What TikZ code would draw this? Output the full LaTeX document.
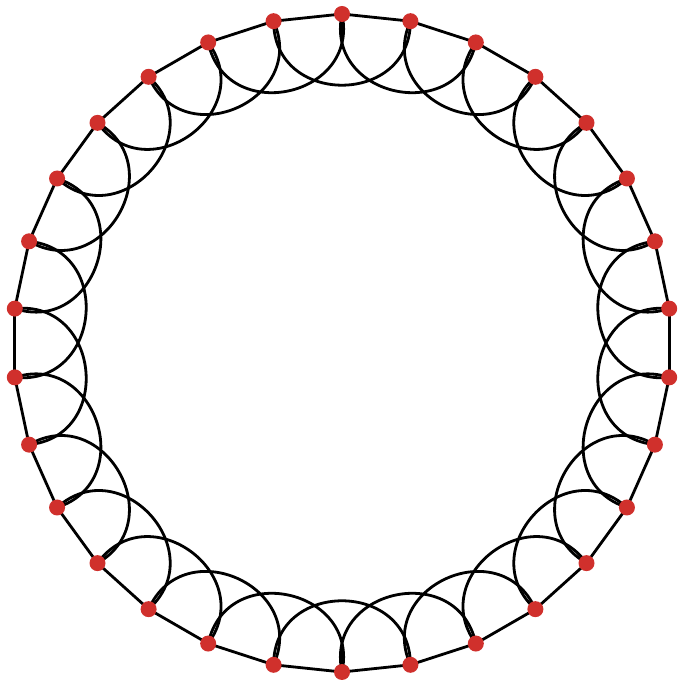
\documentclass[tikz,border=0pt]{standalone}
\usepackage{tikz}
\usetikzlibrary{backgrounds}
\definecolor{dotred}{RGB}{208,48,44}

\begin{document}
\begin{tikzpicture}[x=1pt,y=1pt,
  dot/.style={circle,fill=dotred,inner sep=0pt,minimum size=16pt},
  ring/.style={line width=2.8pt,black}]
  \useasboundingbox (0,0) rectangle (683,687);
  \begin{scope}[shift={(342,344)}]
    \foreach \i in {0,...,29}{\node[dot] (v\i) at ({90+12*\i}:329) {};}
    \begin{scope}[on background layer]
      \foreach \i in {0,...,29}{
        \pgfmathtruncatemacro\j{mod(\i+1,30)}
        \pgfmathtruncatemacro\k{mod(\i+2,30)}
        \draw[ring] (v\i.center) -- (v\j.center);
        \draw[ring] (v\i.center) to[bend left=90,looseness=1.6] (v\k.center);
      }
    \end{scope}
  \end{scope}
\end{tikzpicture}
\end{document}
